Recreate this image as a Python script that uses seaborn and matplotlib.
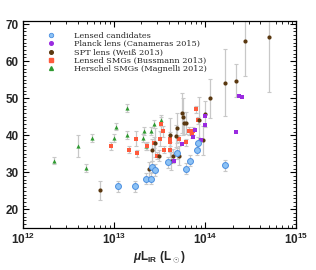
import math
import matplotlib
matplotlib.use("Agg")
import matplotlib.pyplot as plt
import matplotlib.ticker as mticker
from matplotlib.lines import Line2D
import seaborn as sns

# ---------------- data ----------------
green_x = [2.2e12, 4.0e12, 4.9e12, 5.8e12, 9.9e12, 1.04e13, 1.39e13, 1.40e13, 2.08e13,
           2.16e13, 2.23e13, 2.55e13, 2.75e13, 3.28e13]
green_y = [33.1, 37.1, 31.1, 39.2, 39.2, 42.3, 40.1, 47.3, 39.2, 41.1, 37.0, 41.1, 43.0, 44.0]
green_e = [1.0, 3.0, 1.0, 1.0, 1.0, 1.0, 1.0, 1.0, 1.0, 1.0, 1.0, 1.0, 1.0, 1.5]

red_x = [9.2e12, 1.47e13, 1.75e13, 1.81e13, 2.31e13, 2.77e13, 3.23e13, 3.31e13, 3.45e13,
         3.57e13, 4.1e13, 4.1e13, 4.1e13, 5.2e13, 6.2e13, 6.7e13, 7.1e13, 7.4e13, 7.9e13,
         8.3e13, 3.0e13]
red_y = [37.1, 36.1, 39.1, 35.1, 37.1, 38.0, 39.1, 43.0, 41.1, 36.1, 39.0, 38.1, 36.1,
         39.1, 38.1, 41.1, 40.2, 41.1, 47.0, 44.0, 34.5]
red_e = [1.0, 1.0, 2.0, 1.0, 1.0, 1.5, 2.0, 2.0, 1.5, 1.0, 2.0, 2.0, 2.0, 1.0, 1.0, 1.0,
         1.0, 1.0, 1.0, 1.0, 1.0]

brown_x = [7.0e12, 2.4e13, 2.64e13, 2.82e13, 3.12e13, 4.08e13, 4.23e13, 4.41e13, 4.8e13,
           4.96e13, 5.18e13, 5.6e13, 5.7e13, 5.9e13, 6.1e13, 8.6e13, 9.5e13, 1.0e14,
           1.13e14, 1.65e14, 2.18e14, 2.71e14, 4.97e14]
brown_y = [25.1, 30.8, 36.1, 38.0, 34.5, 40.1, 33.1, 34.4, 39.8, 42.0, 34.5, 46.0, 45.0,
           43.2, 43.2, 44.2, 38.6, 45.8, 50.0, 54.2, 54.7, 65.5, 66.4]
brown_e = [2.6, 2.0, 3.0, 4.0, 1.5, 4.5, 2.5, 2.0, 3.0, 4.0, 2.5, 5.5, 5.0, 3.0, 3.0, 6.0,
           4.0, 3.5, 5.3, 9.0, 4.5, 9.5, 14.8]

purple_x = [4.6e13, 5.6e13, 7.4e13, 7.8e13, 8.4e13, 8.9e13, 9.9e13, 1.0e14, 2.18e14,
            2.37e14, 2.52e14]
purple_y = [33.1, 37.6, 39.5, 41.3, 36.1, 38.8, 45.2, 42.7, 40.8, 50.5, 50.4]

blue_x = [1.12e13, 1.68e13, 2.25e13, 2.55e13, 2.6e13, 2.84e13, 3.95e13, 4.88e13, 6.17e13,
          6.8e13, 8.1e13, 8.4e13, 1.66e14]
blue_y = [26.2, 26.2, 28.3, 28.3, 31.5, 30.6, 32.7, 35.1, 31.0, 33.1, 36.1, 38.0, 31.9]
blue_e = [1.5] * 13

labels = ["Lensed candidates", "Planck lens (Canameras 2015)", "SPT lens (Weiß 2013)",
          "Lensed SMGs (Bussmann 2013)", "Herschel SMGs (Magnelli 2012)"]
y_ticks = [20, 30, 40, 50, 60, 70]

# ---------------- plot ----------------
sns.set_style("ticks")
plt.rcParams['font.family'] = ['Liberation Sans', 'DejaVu Sans']
plt.rcParams['mathtext.fontset'] = 'custom'
plt.rcParams['mathtext.rm'] = 'Liberation Sans:bold'
plt.rcParams['mathtext.it'] = 'Liberation Sans:italic:bold'
plt.rcParams['mathtext.bf'] = 'Liberation Sans:bold'

fig = plt.figure(figsize=(3.16, 2.70), dpi=100)
ax = fig.add_axes([0.072, 0.156, 0.866, 0.766])

ecol = "#c8c8c8"
ekw = dict(fmt='none', ecolor=ecol, elinewidth=0.9, capsize=1.6, capthick=0.8, zorder=1)
ax.errorbar(green_x, green_y, yerr=green_e, **ekw)
ax.errorbar(red_x, red_y, yerr=red_e, **ekw)
ax.errorbar(brown_x, brown_y, yerr=brown_e, **ekw)
ax.errorbar(blue_x, blue_y, yerr=blue_e, **ekw)

c_blue_f, c_blue_e = "#8cc2f5", "#4a8ee0"
c_purple = "#9a2be0"
c_brown = "#5a3810"
c_red = "#ff5a3c"
c_green = "#2e9a30"

sns.scatterplot(x=green_x, y=green_y, ax=ax, marker='^', color=c_green, s=9,
                linewidth=0, zorder=3)
sns.scatterplot(x=red_x, y=red_y, ax=ax, marker='s', color=c_red, s=12,
                linewidth=0, zorder=3)
sns.scatterplot(x=brown_x, y=brown_y, ax=ax, marker='o', color=c_brown, s=9,
                linewidth=0, zorder=4)
sns.scatterplot(x=purple_x, y=purple_y, ax=ax, marker='s', color=c_purple, s=7,
                linewidth=0, zorder=4)
sns.scatterplot(x=blue_x, y=blue_y, ax=ax, marker='o', color=c_blue_f, s=18,
                edgecolor=c_blue_e, linewidth=0.7, zorder=5)

ax.set_xscale('log')
ax.set_xlim(1e12, 1e15)
ax.set_ylim(15, 70.8)

ax.xaxis.set_major_locator(mticker.LogLocator(base=10, numticks=10))
ax.xaxis.set_minor_locator(mticker.LogLocator(base=10, subs=range(2, 10), numticks=20))
ax.xaxis.set_minor_formatter(mticker.NullFormatter())
ax.xaxis.set_major_formatter(mticker.FuncFormatter(
    lambda v, p: "10$^{%d}$" % round(math.log10(v))))
ax.set_yticks(y_ticks)
ax.yaxis.set_minor_locator(mticker.MultipleLocator(1))

ax.tick_params(which='both', direction='in', top=True, right=True, color='black')
ax.tick_params(which='major', length=4, width=0.8, labelsize=8.5, pad=3)
ax.tick_params(which='minor', length=2, width=0.6)
for lab in ax.get_xticklabels() + ax.get_yticklabels():
    lab.set_fontweight('bold')
for sp in ax.spines.values():
    sp.set_linewidth(0.9)
    sp.set_color('black')

ax.set_xlabel("$\\mu$L$_{\\rm IR}$ (L$_\\odot$)", fontsize=8.5, fontweight='bold', labelpad=1)
ax.set_ylabel("")

handles = [
    Line2D([], [], marker='o', ls='none', markerfacecolor=c_blue_f, markeredgecolor=c_blue_e,
           markeredgewidth=0.6, markersize=3.2),
    Line2D([], [], marker='o', ls='none', color=c_purple, markersize=2.6),
    Line2D([], [], marker='o', ls='none', color=c_brown, markersize=2.6),
    Line2D([], [], marker='s', ls='none', color=c_red, markersize=3.0),
    Line2D([], [], marker='^', ls='none', color=c_green, markersize=2.8),
]
ax.legend(handles, labels, loc='upper left', bbox_to_anchor=(0.075, 0.965), frameon=False,
          prop={'family': 'DejaVu Serif', 'size': 5.9}, handletextpad=2.3,
          labelspacing=0.05, handlelength=1.0, borderaxespad=0)

fig.savefig("out.png", dpi=100)
